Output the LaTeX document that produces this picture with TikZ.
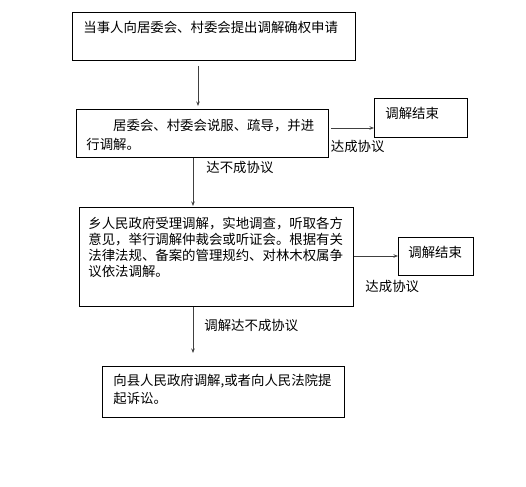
\documentclass[tikz,border=0pt]{standalone}
\usepackage{fontspec}
\setmainfont{Noto Sans CJK SC}
\usetikzlibrary{positioning, arrows.meta}
\definecolor{xian}{HTML}{404040}

\begin{document}
\begin{tikzpicture}[x=1pt, y=-1pt,
    box/.style={draw, line width=0.8pt, anchor=north west, align=left, inner ysep=0pt,
        font=\fontsize{13.4}{16}\selectfont},
    arr/.style={draw=xian, line width=0.8pt, -{Stealth[length=4.5pt, width=3.5pt]}},
    lab/.style={inner sep=0pt, font=\fontsize{13.4}{16}\selectfont}]
\useasboundingbox (0,0) rectangle (526,486);
% boxes
\node[box, inner xsep=11pt, text width=261pt, text height=19.7pt, text depth=28.3pt]
    (apply) at (72,12) {当事人向居委会、村委会提出调解确权申请};
\node[box, inner xsep=10pt, text width=232pt, text height=20.7pt, text depth=27.3pt,
    font=\fontsize{13.4}{19}\selectfont]
    (talk) at (76,109) {\hspace*{2em}居委会、村委会说服、疏导，并进\\行调解。};
\node[box, inner xsep=11pt, text width=71pt, text height=19.7pt, text depth=19.3pt]
    (end1) at (374,98) {调解结束};
\node[box, inner xsep=9pt, text width=256pt, text height=20.7pt, text depth=78.3pt]
    (survey) at (79,207) {乡人民政府受理调解，实地调查，听取各方\\意见，举行调解仲裁会或听证会。根据有关\\法律法规、备案的管理规约、对林木权属争\\议依法调解。};
\node[box, inner xsep=10pt, text width=55pt, text height=19.7pt, text depth=18.3pt]
    (end2) at (398,237) {调解结束};
\node[box, inner xsep=11pt, text width=220pt, text height=18.7pt, text depth=32.3pt,
    font=\fontsize{13.4}{18}\selectfont]
    (court) at (102,366) {向县人民政府调解,或者向人民法院提\\起诉讼。};
% connectors
\draw[arr, shorten <=5pt, shorten >=3pt] ([xshift=126pt]apply.south west)
    -- ([xshift=126pt]apply.south west |- talk.north);
\draw[arr, shorten <=2pt] ([yshift=-19pt]talk.north east)
    -- ([yshift=-19pt]talk.north east -| end1.west)
    node[lab, pos=0.64, below=12.3pt] (ok1) {达成协议};
\draw[arr, shorten >=1pt] ([xshift=117pt]talk.south west)
    -- ([xshift=117pt]talk.south west |- survey.north)
    node[lab, pos=0.2, right=13pt] (fail1) {达不成协议};
\draw[arr] ([yshift=-49pt]survey.north east)
    -- ([yshift=-49pt]survey.north east -| end2.west)
    node[lab, pos=0.87, below=24.3pt] (ok2) {达成协议};
\draw[arr, shorten >=13pt] ([xshift=114pt]survey.south west)
    -- ([xshift=114pt]survey.south west |- court.north)
    node[lab, pos=0.32, right=11pt] (fail2) {调解达不成协议};
\end{tikzpicture}
\end{document}
